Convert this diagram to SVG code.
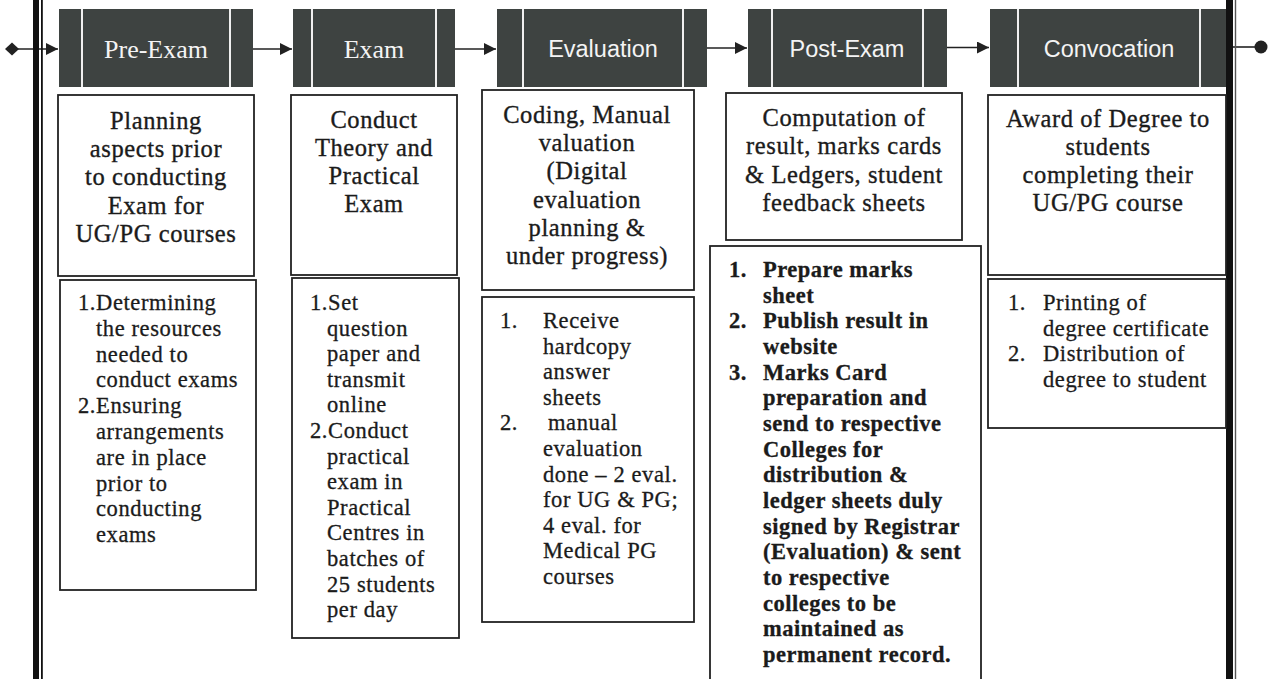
<svg xmlns="http://www.w3.org/2000/svg" width="1270" height="679" viewBox="0 0 1270 679">
<style>
.hdr{fill:#3e4341}
.sep{stroke:#f0f0f0;stroke-width:2}
.box{fill:#fff;stroke:#222;stroke-width:1.8}
.hs{font-family:"Liberation Serif",serif;font-size:26px;fill:#f4f4f4;text-anchor:middle}
.hn{font-family:"Liberation Sans",sans-serif;font-size:23.5px;fill:#f4f4f4;text-anchor:middle}
.desc{font-family:"Liberation Serif",serif;font-size:24.5px;letter-spacing:0.6px;fill:#1b1b1b;stroke:#1b1b1b;stroke-width:0.35;text-anchor:middle}
.list{font-family:"Liberation Serif",serif;font-size:22.5px;letter-spacing:0.6px;fill:#1b1b1b;stroke:#1b1b1b;stroke-width:0.3}
.bold{font-weight:bold;letter-spacing:0.5px}
.conn{stroke:#222;stroke-width:1.6;fill:none}
.bar{fill:#111}
</style>
<defs>
<marker id="ah" viewBox="0 0 10 10" refX="10" refY="5" markerWidth="13" markerHeight="12" markerUnits="userSpaceOnUse" orient="auto">
<path d="M0,0 L10,5 L0,10 z" fill="#222"/>
</marker>
</defs>
<rect width="1270" height="679" fill="#fff"/>

<g id="connectors">
<line class="conn" x1="12" y1="49" x2="58" y2="49" marker-end="url(#ah)"/>
<polygon points="5,49 12,42.5 19,49 12,55.5" fill="#222"/>
<line class="conn" x1="253" y1="49" x2="292" y2="49" marker-end="url(#ah)"/>
<line class="conn" x1="455" y1="49" x2="496" y2="49" marker-end="url(#ah)"/>
<line class="conn" x1="707" y1="48" x2="747" y2="48" marker-end="url(#ah)"/>
<line class="conn" x1="947" y1="47.5" x2="989" y2="47.5" marker-end="url(#ah)"/>
<line class="conn" x1="1233" y1="47" x2="1258" y2="47"/>
<circle cx="1261" cy="47" r="6.5" fill="#222"/>
</g>

<g id="frame">
<rect class="bar" x="33" y="0" width="6" height="679"/>
<rect class="bar" x="41" y="0" width="1.8" height="679"/>
<rect class="bar" x="1226" y="0" width="7" height="679"/>
<rect x="1234.8" y="0" width="1.4" height="679" fill="#555"/>
</g>

<g id="hdr-preexam">
<rect class="hdr" x="59" y="9" width="194" height="78"/>
<line class="sep" x1="82" y1="9" x2="82" y2="87"/>
<line class="sep" x1="230" y1="9" x2="230" y2="87"/>
<text class="hs" x="156" y="58">Pre-Exam</text>
</g>
<g id="hdr-exam">
<rect class="hdr" x="293" y="9" width="162" height="78"/>
<line class="sep" x1="312" y1="9" x2="312" y2="87"/>
<line class="sep" x1="436" y1="9" x2="436" y2="87"/>
<text class="hs" x="374" y="58">Exam</text>
</g>
<g id="hdr-evaluation">
<rect class="hdr" x="497" y="9" width="210" height="78"/>
<line class="sep" x1="523" y1="9" x2="523" y2="87"/>
<line class="sep" x1="683" y1="9" x2="683" y2="87"/>
<text class="hn" x="603" y="57">Evaluation</text>
</g>
<g id="hdr-postexam">
<rect class="hdr" x="748" y="9" width="199" height="78"/>
<line class="sep" x1="772" y1="9" x2="772" y2="87"/>
<line class="sep" x1="923" y1="9" x2="923" y2="87"/>
<text class="hn" x="847" y="57">Post-Exam</text>
</g>
<g id="hdr-convocation">
<rect class="hdr" x="990" y="9" width="236" height="78"/>
<line class="sep" x1="1018" y1="9" x2="1018" y2="87"/>
<line class="sep" x1="1200" y1="9" x2="1200" y2="87"/>
<text class="hn" x="1109" y="57">Convocation</text>
</g>

<g id="desc-preexam">
<rect class="box" x="58" y="95" width="196" height="181"/>
<text class="desc"><tspan x="156" y="129">Planning</tspan><tspan x="156" dy="28.2">aspects prior</tspan><tspan x="156" dy="28.2">to conducting</tspan><tspan x="156" dy="28.2">Exam for</tspan><tspan x="156" dy="28.2">UG/PG courses</tspan></text>
</g>
<g id="desc-exam">
<rect class="box" x="291" y="95" width="166" height="180"/>
<text class="desc"><tspan x="374" y="128">Conduct</tspan><tspan x="374" dy="28.1">Theory and</tspan><tspan x="374" dy="28.1">Practical</tspan><tspan x="374" dy="28.1">Exam</tspan></text>
</g>
<g id="desc-evaluation">
<rect class="box" x="482" y="90" width="212" height="200"/>
<text class="desc"><tspan x="587" y="123">Coding, Manual</tspan><tspan x="587" dy="28.2">valuation</tspan><tspan x="587" dy="28.2">(Digital</tspan><tspan x="587" dy="28.2">evaluation</tspan><tspan x="587" dy="28.2">planning &amp;</tspan><tspan x="587" dy="28.2">under progress)</tspan></text>
</g>
<g id="desc-postexam">
<rect class="box" x="726" y="93" width="236" height="147"/>
<text class="desc"><tspan x="844" y="126">Computation of</tspan><tspan x="844" dy="28.3">result, marks cards</tspan><tspan x="844" dy="28.3">&amp; Ledgers, student</tspan><tspan x="844" dy="28.3">feedback sheets</tspan></text>
</g>
<g id="desc-convocation">
<rect class="box" x="988" y="95" width="238" height="180"/>
<text class="desc"><tspan x="1108" y="127">Award of Degree to</tspan><tspan x="1108" dy="28.1">students</tspan><tspan x="1108" dy="28.1">completing their</tspan><tspan x="1108" dy="28.1">UG/PG course</tspan></text>
</g>

<g id="list-preexam">
<rect class="box" x="60" y="280" width="196" height="310"/>
<text class="list"><tspan x="78" y="310">1.Determining</tspan><tspan x="96" dy="25.8">the resources</tspan><tspan x="96" dy="25.8">needed to</tspan><tspan x="96" dy="25.8">conduct exams</tspan><tspan x="78" dy="25.8">2.Ensuring</tspan><tspan x="96" dy="25.8">arrangements</tspan><tspan x="96" dy="25.8">are in place</tspan><tspan x="96" dy="25.8">prior to</tspan><tspan x="96" dy="25.8">conducting</tspan><tspan x="96" dy="25.8">exams</tspan></text>
</g>
<g id="list-exam">
<rect class="box" x="292" y="278" width="167" height="360"/>
<text class="list"><tspan x="310" y="310">1.Set</tspan><tspan x="327" dy="25.6">question</tspan><tspan x="327" dy="25.6">paper and</tspan><tspan x="327" dy="25.6">transmit</tspan><tspan x="327" dy="25.6">online</tspan><tspan x="310" dy="25.6">2.Conduct</tspan><tspan x="327" dy="25.6">practical</tspan><tspan x="327" dy="25.6">exam in</tspan><tspan x="327" dy="25.6">Practical</tspan><tspan x="327" dy="25.6">Centres in</tspan><tspan x="327" dy="25.6">batches of</tspan><tspan x="327" dy="25.6">25 students</tspan><tspan x="327" dy="25.6">per day</tspan></text>
</g>
<g id="list-evaluation">
<rect class="box" x="482" y="297" width="212" height="325"/>
<text class="list"><tspan x="500" y="328">1.</tspan><tspan x="543">Receive</tspan><tspan x="543" dy="25.6">hardcopy</tspan><tspan x="543" dy="25.6">answer</tspan><tspan x="543" dy="25.6">sheets</tspan><tspan x="500" dy="25.6">2.</tspan><tspan x="548">manual</tspan><tspan x="543" dy="25.6">evaluation</tspan><tspan x="543" dy="25.6">done – 2 eval.</tspan><tspan x="543" dy="25.6">for UG &amp; PG;</tspan><tspan x="543" dy="25.6">4 eval. for</tspan><tspan x="543" dy="25.6">Medical PG</tspan><tspan x="543" dy="25.6">courses</tspan></text>
</g>
<g id="list-postexam">
<rect class="box" x="710" y="246" width="271" height="440"/>
<text class="list bold"><tspan x="729" y="277">1.</tspan><tspan x="763">Prepare marks</tspan><tspan x="763" dy="25.67">sheet</tspan><tspan x="729" dy="25.67">2.</tspan><tspan x="763">Publish result in</tspan><tspan x="763" dy="25.67">website</tspan><tspan x="729" dy="25.67">3.</tspan><tspan x="763">Marks Card</tspan><tspan x="763" dy="25.67">preparation and</tspan><tspan x="763" dy="25.67">send to respective</tspan><tspan x="763" dy="25.67">Colleges for</tspan><tspan x="763" dy="25.67">distribution &amp;</tspan><tspan x="763" dy="25.67">ledger sheets duly</tspan><tspan x="763" dy="25.67">signed by Registrar</tspan><tspan x="763" dy="25.67">(Evaluation) &amp; sent</tspan><tspan x="763" dy="25.67">to respective</tspan><tspan x="763" dy="25.67">colleges to be</tspan><tspan x="763" dy="25.67">maintained as</tspan><tspan x="763" dy="25.67">permanent record.</tspan></text>
</g>
<g id="list-convocation">
<rect class="box" x="988" y="279" width="238" height="149"/>
<text class="list"><tspan x="1008" y="310">1.</tspan><tspan x="1043">Printing of</tspan><tspan x="1043" dy="25.7">degree certificate</tspan><tspan x="1008" dy="25.7">2.</tspan><tspan x="1043">Distribution of</tspan><tspan x="1043" dy="25.7">degree to student</tspan></text>
</g>
</svg>
